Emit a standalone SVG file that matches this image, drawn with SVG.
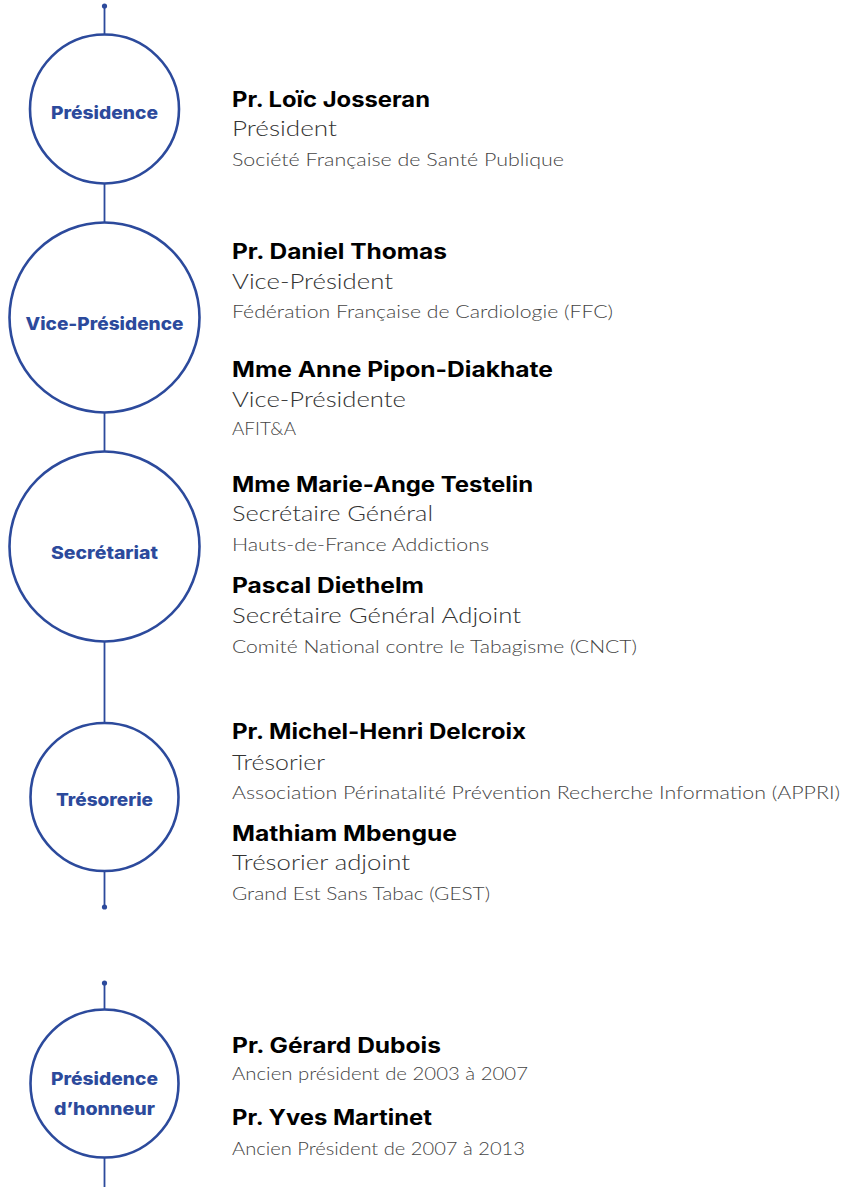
<svg xmlns="http://www.w3.org/2000/svg" width="842" height="1187" viewBox="0 0 842 1187">
<style>
.ring{fill:#fff;stroke:#2c4a9c;stroke-width:2.6}
.wire{stroke:#2c4a9c;stroke-width:1.8;fill:none}
.dot{fill:#2c4a9c}
.lbl{font-family:Inter,"Liberation Sans",sans-serif;font-weight:800;font-size:17.5px;fill:#2c4a9c;text-anchor:middle}
.nm{font-family:Inter,"Liberation Sans",sans-serif;font-weight:700;font-size:21px;fill:#000}
.rl{font-family:Lato,Inter,"Liberation Sans",sans-serif;font-weight:300;font-size:22px;fill:#333}
.og{font-family:Lato,Inter,"Liberation Sans",sans-serif;font-weight:300;font-size:17.5px;fill:#444}
</style>
<rect width="842" height="1187" fill="#fff"/>
<g id="connectors">
<line class="wire" x1="104.5" y1="6" x2="104.5" y2="35"/>
<line class="wire" x1="104.5" y1="183" x2="104.5" y2="223"/>
<line class="wire" x1="104.5" y1="412" x2="104.5" y2="452"/>
<line class="wire" x1="104.5" y1="641" x2="104.5" y2="723"/>
<line class="wire" x1="104.5" y1="871" x2="104.5" y2="907"/>
<line class="wire" x1="104.5" y1="983" x2="104.5" y2="1010"/>
<line class="wire" x1="104.5" y1="1157" x2="104.5" y2="1187"/>
<circle class="dot" cx="104.5" cy="6" r="2.6"/>
<circle class="dot" cx="104.5" cy="907" r="2.6"/>
<circle class="dot" cx="104.5" cy="983" r="2.6"/>
</g>
<g id="node-presidence">
<circle class="ring" cx="104.5" cy="109" r="74.5"/>
<text class="lbl" x="104.5" y="118.5" textLength="107" lengthAdjust="spacingAndGlyphs">Présidence</text>
</g>
<g id="node-vice-presidence">
<circle class="ring" cx="104.5" cy="317.5" r="95"/>
<text class="lbl" x="104.5" y="329.5" textLength="158" lengthAdjust="spacingAndGlyphs">Vice-Présidence</text>
</g>
<g id="node-secretariat">
<circle class="ring" cx="104.5" cy="546.5" r="95"/>
<text class="lbl" x="104.5" y="558.5" textLength="107" lengthAdjust="spacingAndGlyphs">Secrétariat</text>
</g>
<g id="node-tresorerie">
<circle class="ring" cx="104.5" cy="797" r="74"/>
<text class="lbl" x="104.5" y="806" textLength="97" lengthAdjust="spacingAndGlyphs">Trésorerie</text>
</g>
<g id="node-presidence-honneur">
<circle class="ring" cx="104.5" cy="1083.5" r="74"/>
<text class="lbl" x="104.5" y="1084.5" textLength="107" lengthAdjust="spacingAndGlyphs">Présidence</text>
<text class="lbl" x="104.5" y="1114.5" textLength="101" lengthAdjust="spacingAndGlyphs">d’honneur</text>
</g>
<g id="members-presidence">
<text class="nm" x="232" y="106.5" textLength="198" lengthAdjust="spacingAndGlyphs">Pr. Loïc Josseran</text>
<text class="rl" x="232" y="135.5" textLength="105" lengthAdjust="spacingAndGlyphs">Président</text>
<text class="og" x="232" y="166" textLength="332" lengthAdjust="spacingAndGlyphs">Société Française de Santé Publique</text>
</g>
<g id="members-vice-presidence">
<text class="nm" x="232" y="258.5" textLength="215" lengthAdjust="spacingAndGlyphs">Pr. Daniel Thomas</text>
<text class="rl" x="232" y="288.5" textLength="161" lengthAdjust="spacingAndGlyphs">Vice-Président</text>
<text class="og" x="232" y="318" textLength="381" lengthAdjust="spacingAndGlyphs">Fédération Française de Cardiologie (FFC)</text>
<text class="nm" x="232" y="376.5" textLength="321" lengthAdjust="spacingAndGlyphs">Mme Anne Pipon-Diakhate</text>
<text class="rl" x="232" y="406.5" textLength="174" lengthAdjust="spacingAndGlyphs">Vice-Présidente</text>
<text class="og" x="232" y="434.5" textLength="64" lengthAdjust="spacingAndGlyphs">AFIT&amp;A</text>
</g>
<g id="members-secretariat">
<text class="nm" x="232" y="491.5" textLength="301" lengthAdjust="spacingAndGlyphs">Mme Marie-Ange Testelin</text>
<text class="rl" x="232" y="521" textLength="201" lengthAdjust="spacingAndGlyphs">Secrétaire Général</text>
<text class="og" x="232" y="551" textLength="257" lengthAdjust="spacingAndGlyphs">Hauts-de-France Addictions</text>
<text class="nm" x="232" y="593" textLength="192" lengthAdjust="spacingAndGlyphs">Pascal Diethelm</text>
<text class="rl" x="232" y="622.5" textLength="289" lengthAdjust="spacingAndGlyphs">Secrétaire Général Adjoint</text>
<text class="og" x="232" y="653" textLength="405" lengthAdjust="spacingAndGlyphs">Comité National contre le Tabagisme (CNCT)</text>
</g>
<g id="members-tresorerie">
<text class="nm" x="232" y="738.5" textLength="294" lengthAdjust="spacingAndGlyphs">Pr. Michel-Henri Delcroix</text>
<text class="rl" x="232" y="769.5" textLength="93" lengthAdjust="spacingAndGlyphs">Trésorier</text>
<text class="og" x="232" y="799" textLength="608" lengthAdjust="spacingAndGlyphs">Association Périnatalité Prévention Recherche Information (APPRI)</text>
<text class="nm" x="232" y="840.5" textLength="225" lengthAdjust="spacingAndGlyphs">Mathiam Mbengue</text>
<text class="rl" x="232" y="869.5" textLength="178" lengthAdjust="spacingAndGlyphs">Trésorier adjoint</text>
<text class="og" x="232" y="900" textLength="258" lengthAdjust="spacingAndGlyphs">Grand Est Sans Tabac (GEST)</text>
</g>
<g id="members-presidence-honneur">
<text class="nm" x="232" y="1052.5" textLength="209" lengthAdjust="spacingAndGlyphs">Pr. Gérard Dubois</text>
<text class="og" x="232" y="1080" textLength="296" lengthAdjust="spacingAndGlyphs">Ancien président de 2003 à 2007</text>
<text class="nm" x="232" y="1125" textLength="200" lengthAdjust="spacingAndGlyphs">Pr. Yves Martinet</text>
<text class="og" x="232" y="1154.5" textLength="293" lengthAdjust="spacingAndGlyphs">Ancien Président de 2007 à 2013</text>
</g>
</svg>
